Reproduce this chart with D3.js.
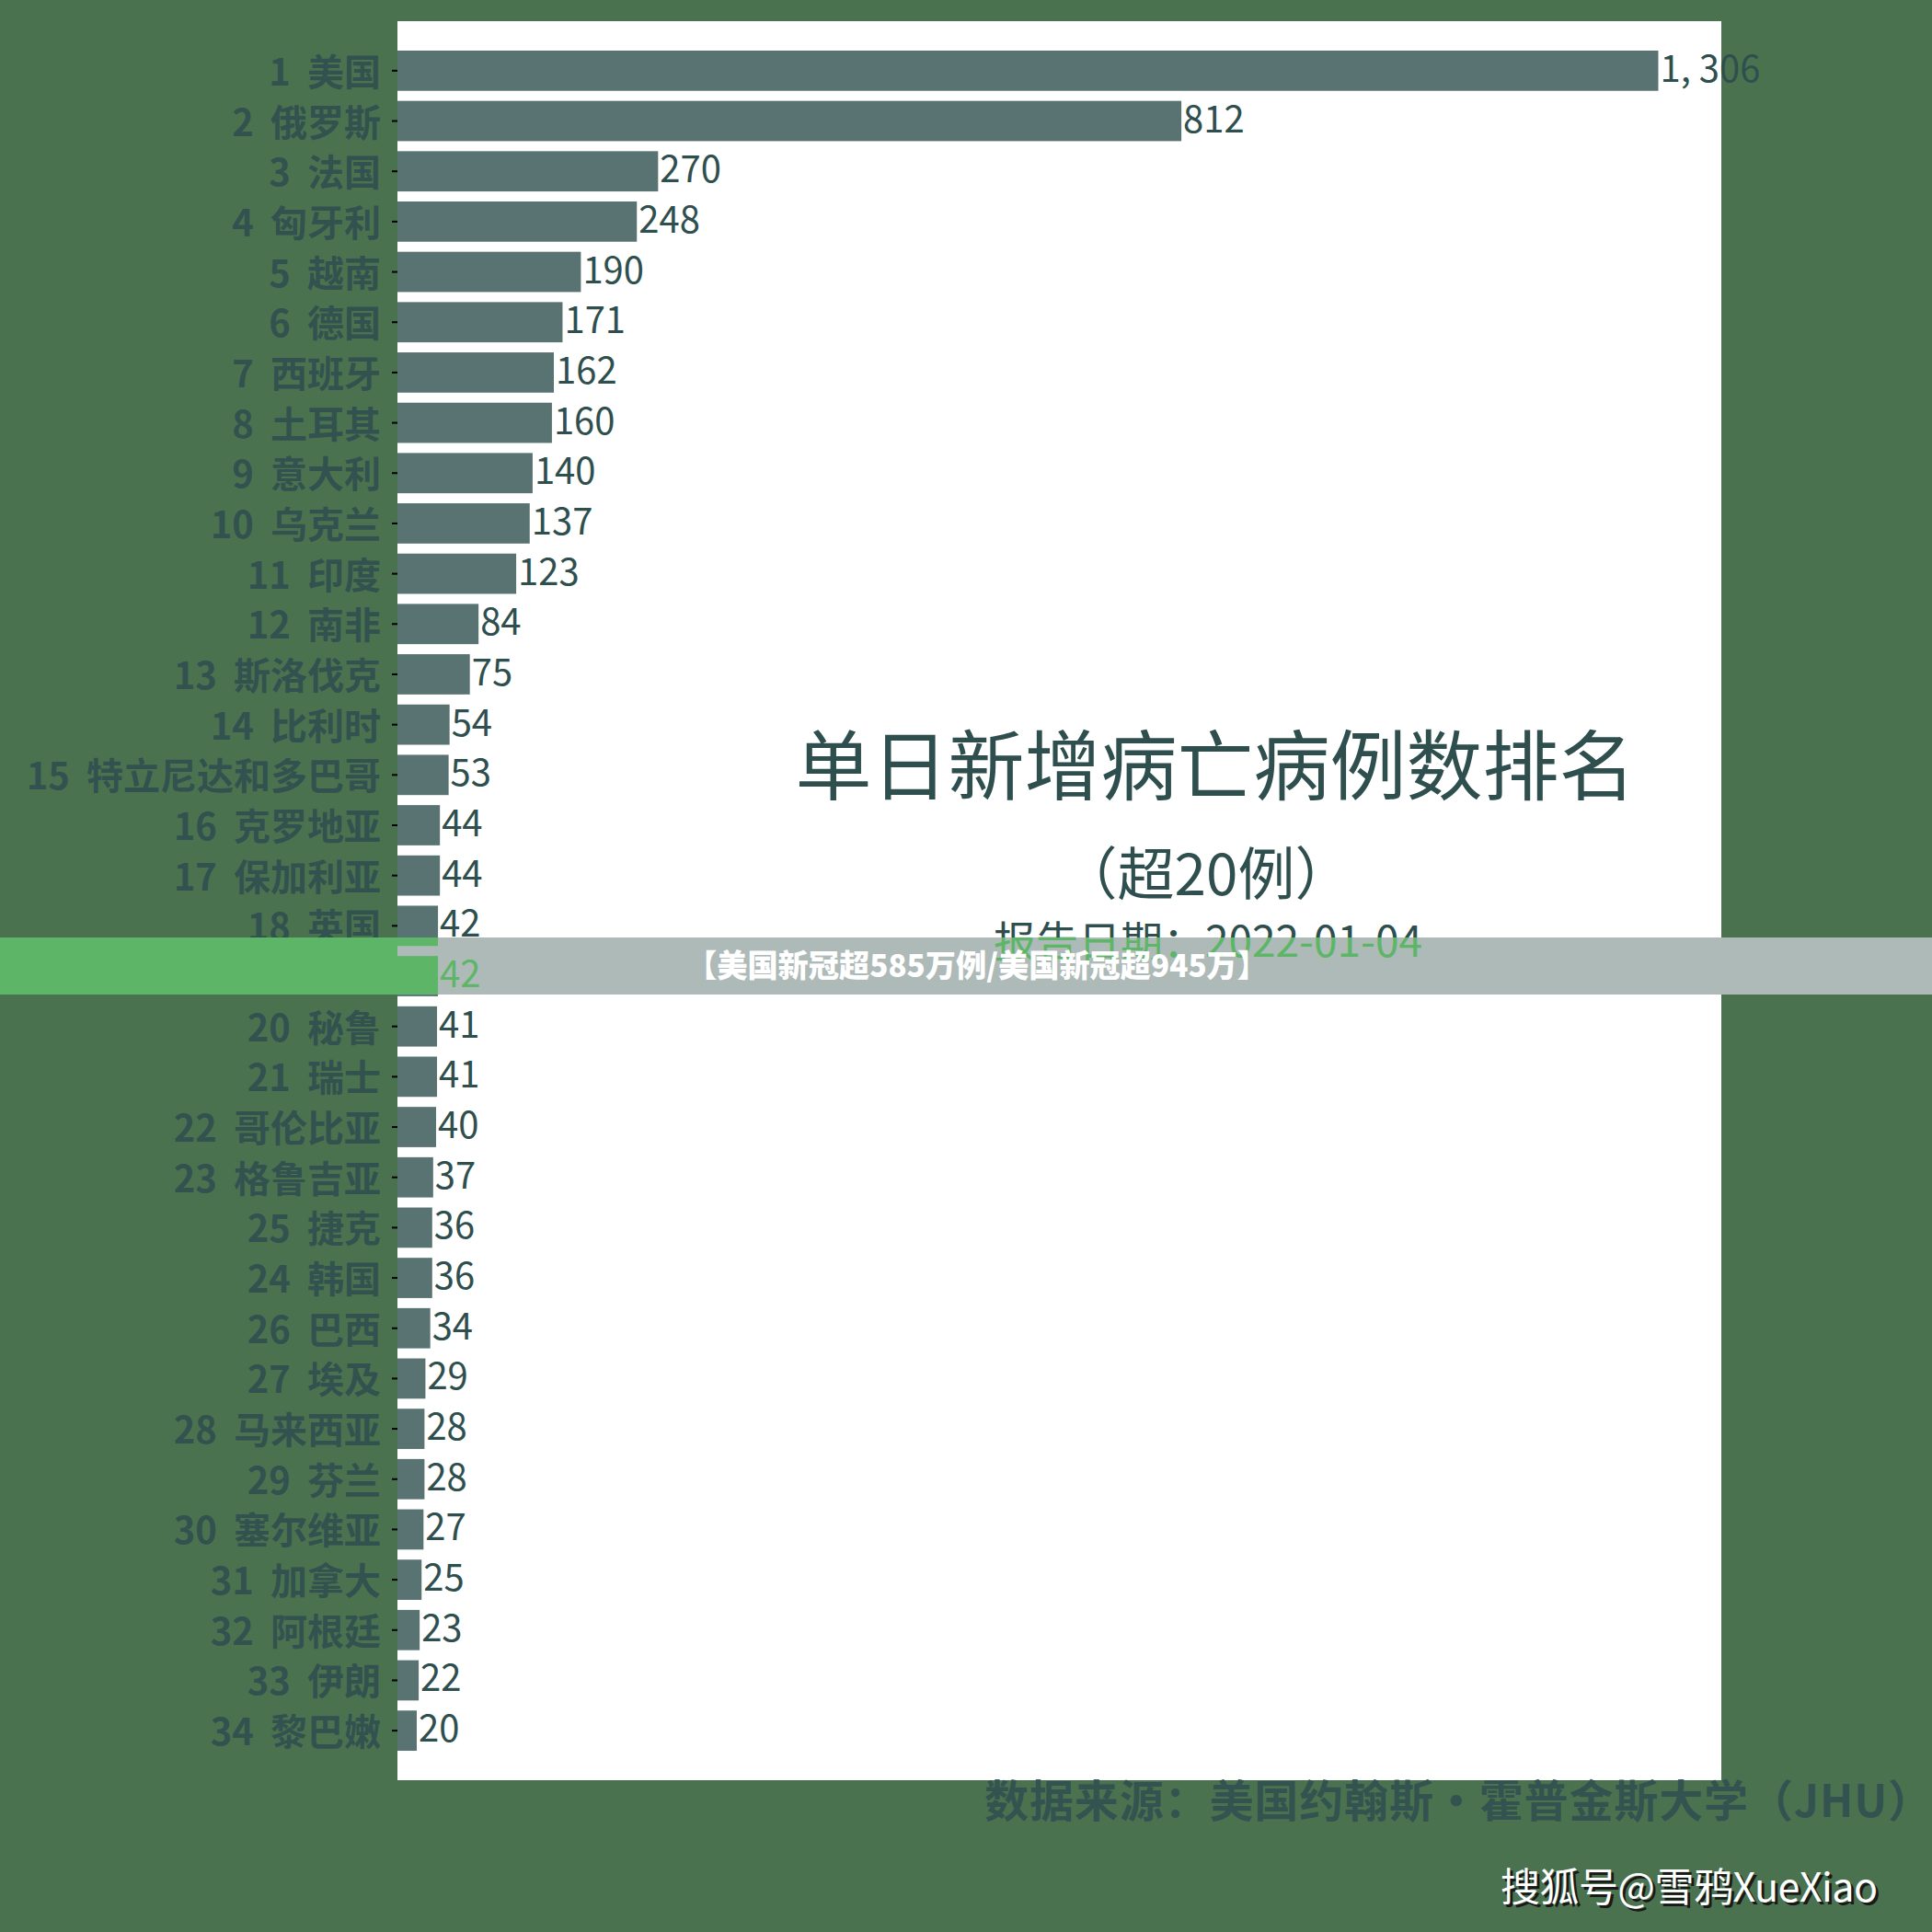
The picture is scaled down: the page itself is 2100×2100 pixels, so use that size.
<!DOCTYPE html>
<html>
<head>
<meta charset="utf-8">
<script src="https://cdn.jsdelivr.net/npm/d3@7"></script>
<style>
body { margin: 0; background: #4a724f; }
text { font-family: "Noto Sans CJK SC", sans-serif; white-space: pre; }
</style>
</head>
<body>
<div id="my_dataviz"></div>
<script>
// ranks as printed (25 and 24 are swapped in the source)
var ranks = [1, 2, 3, 4, 5, 6, 7, 8, 9, 10, 11, 12, 13, 14, 15, 16, 17, 18, 19, 20,
             21, 22, 23, 25, 24, 26, 27, 28, 29, 30, 31, 32, 33, 34];
var countries = ['美国', '俄罗斯', '法国', '匈牙利', '越南', '德国', '西班牙', '土耳其', '意大利', '乌克兰',
                 '印度', '南非', '斯洛伐克', '比利时', '特立尼达和多巴哥', '克罗地亚', '保加利亚', '英国', '墨西哥', '秘鲁',
                 '瑞士', '哥伦比亚', '格鲁吉亚', '捷克', '韩国', '巴西', '埃及', '马来西亚', '芬兰', '塞尔维亚',
                 '加拿大', '阿根廷', '伊朗', '黎巴嫩'];
var deaths = [1306, 812, 270, 248, 190, 171, 162, 160, 140, 137,
              123, 84, 75, 54, 53, 44, 44, 42, 42, 41,
              41, 40, 37, 36, 36, 34, 29, 28, 28, 27,
              25, 23, 22, 20];

var title = '单日新增病亡病例数排名';
var subtitle = '（超20例）';
var reportDate = '报告日期：2022-01-04';
var source = '数据来源：美国约翰斯·霍普金斯大学（JHU）';
var watermark = '搜狐号@雪鸦XueXiao';
var banner = '【美国新冠超585万例/美国新冠超945万】';

var W = 2100, H = 2100;
var plot = {left: 432, right: 1871, top: 23, bottom: 1935};
var slate = '#2f4f4f';
var bannerGreen = '#5db668';

var data = deaths.map(function(d, i){ return {label: ranks[i] + '  ' + countries[i], value: d}; });

var svg = d3.select('#my_dataviz')
    .append('svg')
    .attr('width', W)
    .attr('height', H);

svg.append('rect')
    .attr('width', W).attr('height', H)
    .attr('fill', '#4a724f');

// white plot area
svg.append('rect')
    .attr('x', plot.left).attr('y', plot.top)
    .attr('width', plot.right - plot.left)
    .attr('height', plot.bottom - plot.top)
    .attr('fill', 'white');

var x = d3.scaleLinear()
    .domain([0, d3.max(deaths) * 1.05])
    .range([plot.left, plot.right]);

var y = d3.scaleBand()
    .domain(data.map(function(d){ return d.label; }))
    .range([plot.top, plot.bottom])
    .paddingInner(0.2)
    .paddingOuter(0.585);

var chart = svg.append('g').attr('class', 'chart');

chart.selectAll('rect.bar')
    .data(data)
    .enter()
    .append('rect')
    .attr('class', 'bar')
    .attr('x', x(0))
    .attr('y', function(d){ return y(d.label); })
    .attr('width', function(d){ return x(d.value) - x(0); })
    .attr('height', y.bandwidth())
    .attr('fill', slate)
    .attr('fill-opacity', 0.8);

chart.selectAll('text.val')
    .data(data)
    .enter()
    .append('text')
    .attr('class', 'val')
    .attr('x', function(d){ return x(d.value) + 2; })
    .attr('y', function(d){ return y(d.label) + y.bandwidth() / 2 + 12; })
    .attr('font-size', 40)
    .attr('fill', slate)
    .text(function(d){ return d3.format(',')(d.value).replace(',', ', '); });

// y axis: ticks + labels
var axis = chart.append('g')
    .attr('transform', 'translate(' + plot.left + ',0)')
    .call(d3.axisLeft(y).tickSize(6).tickPadding(12));
axis.select('.domain').remove();
axis.selectAll('.tick line').attr('stroke', 'black').attr('stroke-width', 2);
axis.selectAll('.tick text')
    .attr('font-size', 40)
    .attr('font-weight', 'bold')
    .attr('font-family', '"Noto Sans CJK SC", sans-serif')
    .attr('fill', slate)
    .attr('fill-opacity', 0.92)
    .attr('dy', null)
    .attr('y', 16);

// titles
chart.append('text')
    .attr('x', 1321).attr('y', 863)
    .attr('text-anchor', 'middle')
    .attr('font-size', 83)
    .attr('fill', slate)
    .text(title);

chart.append('text')
    .attr('x', 1311).attr('y', 973)
    .attr('text-anchor', 'middle')
    .attr('font-size', 62)
    .attr('fill', slate)
    .text(subtitle);

chart.append('text')
    .attr('class', 'date')
    .attr('x', 1313).attr('y', 1040)
    .attr('text-anchor', 'middle')
    .attr('font-size', 46)
    .attr('fill', slate)
    .text(reportDate);

// footer
svg.append('text')
    .attr('x', 1070).attr('y', 1975)
    .attr('font-size', 48)
    .attr('font-weight', 'bold')
    .attr('fill', slate)
    .attr('fill-opacity', 0.88)
    .attr('textLength', 1030)
    .attr('lengthAdjust', 'spacing')
    .text(source);

// watermark with shadow
svg.append('text')
    .attr('x', 1634).attr('y', 2070)
    .attr('font-size', 43)
    .attr('fill', '#1a1a1a')
    .attr('textLength', 410)
    .text(watermark);
svg.append('text')
    .attr('x', 1631).attr('y', 2067)
    .attr('font-size', 43)
    .attr('fill', 'white')
    .attr('textLength', 410)
    .text(watermark);

// caption banner laid over the picture
var band = {y: 1019, h: 62};
svg.append('clipPath').attr('id', 'bandClip')
    .append('rect')
    .attr('x', 0).attr('y', band.y)
    .attr('width', W).attr('height', band.h);

var over = svg.append('g').attr('clip-path', 'url(#bandClip)');
over.append('rect')
    .attr('x', 0).attr('y', band.y)
    .attr('width', W).attr('height', band.h)
    .attr('fill', '#aebab7');
over.append('rect')
    .attr('x', 0).attr('y', band.y)
    .attr('width', plot.left).attr('height', band.h)
    .attr('fill', bannerGreen);

// copy what lies under the banner, tinted green
chart.selectAll('rect.bar, text.val, text.date').each(function(){
    var c = this.cloneNode(true);
    d3.select(c).attr('fill', bannerGreen).attr('fill-opacity', 1);
    over.node().appendChild(c);
});
axis.selectAll('.tick').each(function(){
    var c = this.cloneNode(true);
    d3.select(c).select('text').attr('fill', bannerGreen).attr('fill-opacity', 1);
    d3.select(c).select('line').attr('stroke', '#4f9a5a');
    over.node().appendChild(c);
});

over.append('text')
    .attr('x', 746).attr('y', 1062)
    .attr('font-size', 34)
    .attr('font-weight', 900)
    .attr('fill', 'white')
    .attr('textLength', 632)
    .attr('lengthAdjust', 'spacingAndGlyphs')
    .text(banner);
</script>
</body>
</html>
